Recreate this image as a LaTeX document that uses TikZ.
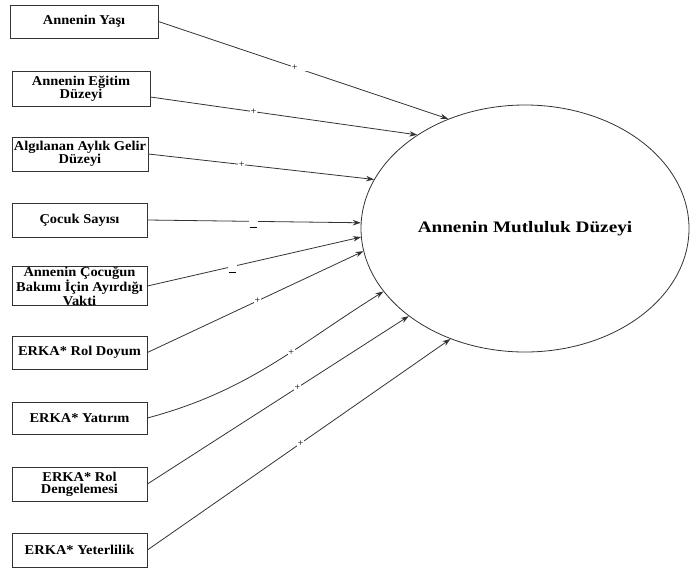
\documentclass[tikz,border=0pt]{standalone}
\usepackage{fontspec}
\setmainfont{Liberation Serif}
\newfontfamily\bigfont[FakeStretch=1.2]{Liberation Serif}
\newfontfamily\boxfont[FakeStretch=1.07]{Liberation Serif}
\usetikzlibrary{arrows.meta,shapes.geometric}
\tikzset{
  box/.style={draw=black!80, line width=0.8pt, rectangle, inner sep=0pt, align=center,
    minimum width=135pt, minimum height=34pt,
    font=\fontsize{13.5}{12.3}\boxfont\bfseries},
  conn/.style={draw=black!80, line width=0.8pt, -{Stealth[length=8pt,width=5.5pt]}},
  plus/.style={fill=white, inner sep=0.6pt, font=\fontsize{10}{10}\selectfont},
  gapbox/.style={fill=white, inner sep=0pt, minimum height=4pt},
  minus/.style={fill=white, inner sep=0pt, inner xsep=1pt, text height=1pt, text depth=11pt}
}
\newcommand{\lowdash}{\raisebox{-11pt}{\rule{7pt}{0.6pt}}}
\begin{document}
\begin{tikzpicture}[x=1pt, y=-1pt]
\useasboundingbox (0,0) rectangle (690,570);
\node[ellipse, draw=black!80, line width=0.8pt, minimum width=328pt, minimum height=247pt, inner sep=0pt,
  font=\fontsize{16}{16}\bigfont\bfseries] (ell) at (525,228.5) {Annenin Mutluluk Düzeyi};

\node[box, minimum width=148pt, minimum height=33pt] (b1) at (84,21.5) {Annenin Yaşı};
\node[box, minimum width=138pt, minimum height=35pt] (b2) at (81,88.5) {Annenin Eğitim\\Düzeyi};
\node[box, minimum width=136pt] (b3) at (80,154) {Algılanan Aylık Gelir\\Düzeyi};
\node[box] (b4) at (79.5,220) {Çocuk Sayısı};
\node[box, font=\fontsize{13.5}{10.5}\boxfont\bfseries] (b5) at (79.5,286) {Annenin Çocuğun\\Bakımı İçin Ayırdığı\\Vakti};
\node[box, minimum height=33pt] (b6) at (79.5,352.5) {ERKA* Rol Doyum};
\node[box, minimum height=32pt] (b7) at (79.5,418) {ERKA* Yatırım};
\node[box] (b8) at (79.5,484) {ERKA* Rol\\Dengelemesi};
\node[box] (b9) at (79.5,550) {ERKA* Yeterlilik};

\draw[conn] (b1.east) -- (ell.125.6) node[gapbox, pos=0.488, minimum width=33pt]{} node[plus, pos=0.47]{+};
\draw[conn] ([yshift=-8.5pt]b2.east) -- (ell.139.4) node[plus, pos=0.386]{+};
\draw[conn] (b3.east) -- (ell.162.6) node[plus, pos=0.414]{+};
\draw[conn] (b4.east) -- (ell.178.4) node[minus, pos=0.495]{\lowdash};
\draw[conn] (b5.east) -- (ell.183) node[minus, pos=0.40]{\lowdash};
\draw[conn] (b6.east) -- (ell.188.5) node[plus, pos=0.51]{+};
\draw[conn] (b7.east) to[out=15, in=212] node[plus, pos=0.6]{+} (ell.204.4);
\draw[conn] (b8.east) -- (ell.217.6) node[plus, pos=0.574]{+};
\draw[conn] (b9.east) -- (ell.236.4) node[plus, pos=0.506]{+};
\end{tikzpicture}
\end{document}
